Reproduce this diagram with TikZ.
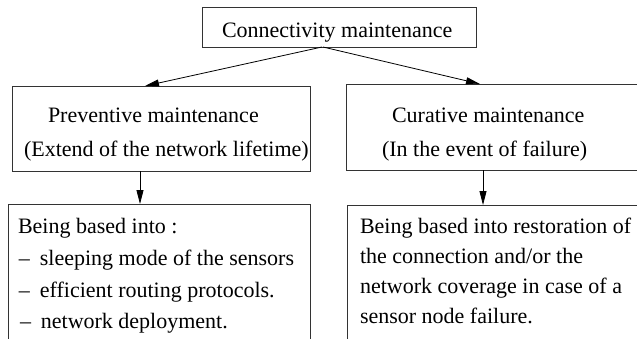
\documentclass[tikz,border=0pt]{standalone}
\usepackage{fontspec}
\setmainfont{Liberation Serif}
\usetikzlibrary{arrows.meta}
\begin{document}
\begin{tikzpicture}[x=1pt,y=-1pt,
  box/.style={draw=black!80, line width=0.9pt, rectangle, inner sep=0pt, outer sep=0pt, anchor=north west},
  lbl/.style={anchor=base west, inner sep=0pt, outer sep=0pt, font=\fontsize{22}{26}\selectfont},
  arr/.style={draw=black, line width=0.8pt, -{Triangle[length=14pt,width=7pt]}}]
\useasboundingbox (0,0) rectangle (637,338);
\clip (0,0) rectangle (637,338);
% boxes
\node[box, minimum width=274pt, minimum height=40pt] (cm) at (202,7) {};
\node[box, minimum width=298pt, minimum height=85pt] (pm) at (12,86) {};
\node[box, minimum width=320pt, minimum height=86pt] (cr) at (346,84) {};
\node[box, minimum width=302pt, minimum height=200pt] (bl) at (8,204) {};
\node[box, minimum width=320pt, minimum height=200pt] (br) at (347,205) {};
% texts
\node[lbl] (t0) at (222,37) {Connectivity maintenance};
\node[lbl] (t1) at (48,122) {Preventive maintenance};
\node[lbl] (t2) at (24,156) {(Extend of the network lifetime)};
\node[lbl] (t3) at (392,122) {Curative maintenance};
\node[lbl] (t4) at (382,156) {(In the event of failure)};
\node[lbl] (l1) at (18,233) {Being based into :};
\node[lbl] (l2) at (19,265) {–\hspace{0.45em}sleeping mode of the sensors};
\node[lbl] (l3) at (19,297) {–\hspace{0.45em}efficient routing protocols.};
\node[lbl] (l4) at (20,328) {–\hspace{0.45em}network deployment.};
\node[lbl] (r1) at (360,233) {Being based into restoration of};
\node[lbl] (r2) at (360,263) {the connection and/or the};
\node[lbl] (r3) at (360,293) {network coverage in case of a};
\node[lbl] (r4) at (360,323) {sensor node failure.};
% connectors
\draw[arr] ([xshift=120pt]cm.south west) -- ([xshift=133pt]pm.north west);
\draw[arr] ([xshift=121pt]cm.south west) -- ([xshift=134pt]cr.north west);
\draw[arr] ([xshift=128pt]pm.south west) -- ([xshift=132pt]bl.north west);
\draw[arr] ([xshift=137pt]cr.south west) -- ([xshift=136pt]br.north west);
\end{tikzpicture}
\end{document}
